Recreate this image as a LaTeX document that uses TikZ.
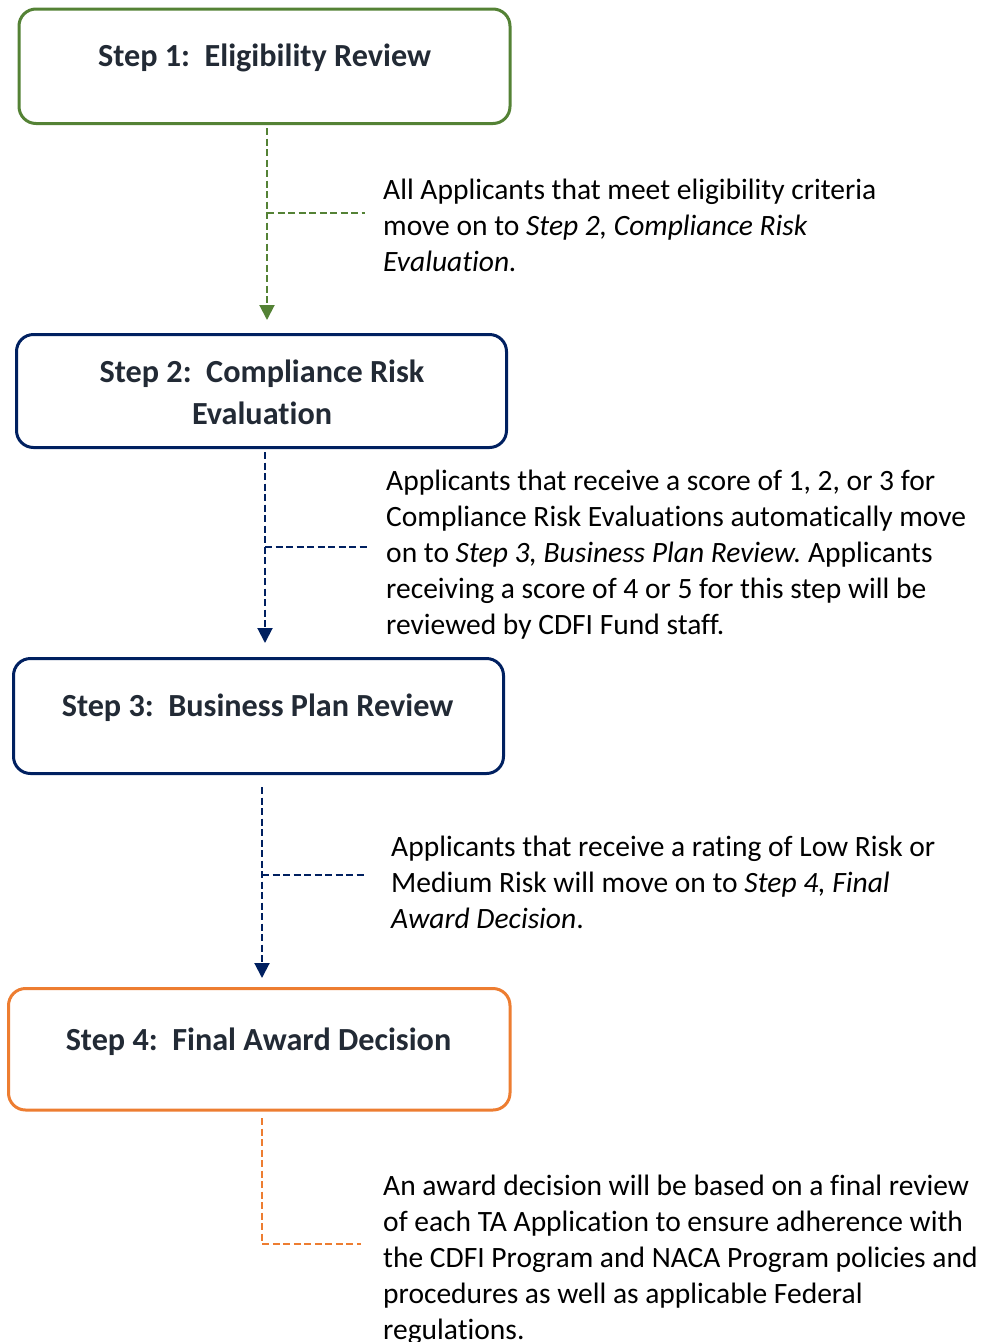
\documentclass[tikz,border=0pt]{standalone}
\usepackage{fontspec}
\setmainfont{Carlito}[Ligatures={NoCommon,NoRequired}]
\usetikzlibrary{arrows.meta}
\frenchspacing
\newcommand\nolig{\kern0pt }
\definecolor{cgreen}{HTML}{548235}
\definecolor{cnavy}{HTML}{002060}
\definecolor{corange}{HTML}{ED7D31}
\definecolor{ctitle}{HTML}{222A35}
\tikzset{
  stepbox/.style={draw, line width=3pt, rounded corners=17pt, inner sep=0pt, fill=white},
  steptitle/.style={font=\bfseries\fontsize{32.2}{42}\selectfont, text=ctitle, inner sep=0pt, anchor=base},
  body/.style={font=\fontsize{29.5}{36}\selectfont, text=black, inner sep=0pt, anchor=base west},
  link/.style={line width=2pt, dash pattern=on 7pt off 3.5pt},
  tip/.style={-{Triangle[width=15pt,length=15pt]}}
}
\begin{document}
\begin{tikzpicture}[x=1pt,y=-1pt]
\useasboundingbox (0,0) rectangle (995,1342);

% boxes
\node[stepbox, draw=cgreen, minimum width=491pt, minimum height=114.5pt] (b1) at (264.5,66.25) {};
\node[stepbox, draw=cnavy, minimum width=490pt, minimum height=113pt] (b2) at (261.5,391) {};
\node[stepbox, draw=cnavy, minimum width=490pt, minimum height=115pt] (b3) at (258.5,716) {};
\node[stepbox, draw=corange, minimum width=501.5pt, minimum height=121.5pt] (b4) at (259.25,1049.25) {};

% titles
\node[steptitle] (s1) at (264.5,66) {Step 1:\ \ Eligibility Review};
\node[steptitle] (s2) at (262,382) {\vtop{\hbox to 0pt{\hss Step 2:\ \ Compliance Risk\hss}\hbox to 0pt{\hss Evaluat\nolig ion\hss}}};
\node[steptitle] (s3) at (257.5,716) {Step 3:\ \ Business Plan Review};
\node[steptitle] (s4) at (258.5,1050) {Step 4:\ \ Final Award Decision};

% explanatory texts
\node[body] (t1) at (383,199) {\vtop{%
  \hbox{All Applicants that meet eligibility criteria}%
  \hbox{move on to \textit{Step 2, Compliance Risk}}%
  \hbox{\textit{Evaluat\nolig ion.}}}};
\node[body] (t2) at (386,490) {\vtop{%
  \hbox{Applicants that receive a score of 1, 2, or 3 for}%
  \hbox{Compliance Risk Evaluat\nolig ions automat\nolig ically move}%
  \hbox{on to \textit{Step 3, Business Plan Review.} Applicants}%
  \hbox{receiving a score of 4 or 5 for this step will be}%
  \hbox{reviewed by CDFI Fund staff.}}};
\node[body] (t3) at (391,856) {\vtop{%
  \hbox{Applicants that receive a rating of Low Risk or}%
  \hbox{Medium Risk will move on to \textit{Step 4, Final}}%
  \hbox{\textit{Award Decision}.}}};
\node[body] (t4) at (383,1195) {\vtop{%
  \hbox{An award decision will be based on a final review}%
  \hbox{of each TA Applicat\nolig ion to ensure adherence with}%
  \hbox{the CDFI Program and NACA Program policies and}%
  \hbox{procedures as well as applicable Federal}%
  \hbox{regulations.}}};

% connectors
\coordinate (a1s) at ([xshift=2.5pt,yshift=-3pt]b1.south);
\coordinate (a1b) at (365,213);
\draw[link, cgreen, tip] (a1s) -- ([yshift=13pt]a1s |- b2.north);
\draw[link, cgreen] (a1s |- a1b) -- (a1b);

\coordinate (a2s) at ([xshift=3.5pt,yshift=-3pt]b2.south);
\coordinate (a2b) at (367,547);
\draw[link, cnavy, tip] (a2s) -- ([yshift=14pt]a2s |- b3.north);
\draw[link, cnavy] (a2s |- a2b) -- (a2b);

\coordinate (a3s) at ([xshift=3.5pt,yshift=-12pt]b3.south);
\coordinate (a3b) at (367,875);
\draw[link, cnavy, tip] (a3s) -- ([yshift=9pt]a3s |- b4.north);
\draw[link, cnavy] (a3s |- a3b) -- (a3b);

\coordinate (a4s) at ([xshift=3pt,yshift=-6.5pt]b4.south);
\coordinate (a4b) at (361,1244);
\draw[link, corange] (a4s) -- (a4s |- a4b) -- (a4b);
\end{tikzpicture}
\end{document}
